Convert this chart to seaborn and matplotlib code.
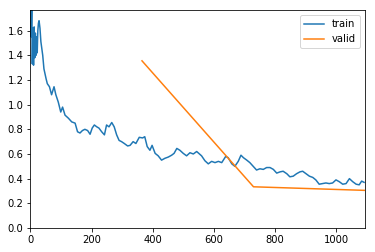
import matplotlib
matplotlib.use("Agg")
import matplotlib.pyplot as plt
import seaborn as sns
import pandas as pd

train_iter = [0, 2, 4, 6, 8, 10, 12, 14, 16, 18, 20, 22, 24, 26, 28, 30, 31, 34, 40, 44, 51, 55,
              62, 69, 77, 83, 91, 99, 105, 113, 124, 135, 146, 154, 162, 170, 178, 187, 195,
              202, 209, 217, 224, 233, 242, 249, 257, 266, 274, 282, 290, 298, 307, 318, 326,
              336, 345, 356, 367, 374,
              382, 391, 398, 408, 418, 429, 440, 451, 462, 470, 479, 489, 500, 511, 522, 533,
              544, 553, 560, 571, 582, 593, 604, 615, 626, 639, 647, 659, 669, 680, 689, 697,
              708, 718, 729, 740, 751, 762, 773, 784, 795, 806, 817, 827, 839, 849, 860, 871,
              882, 891, 902, 913, 924, 934, 945, 956, 967, 978, 989, 1000, 1011, 1022, 1033,
              1044, 1055, 1066, 1076, 1084, 1092]
train_loss = [1.77, 1.55, 1.77, 1.33, 1.62, 1.32, 1.63, 1.38, 1.58, 1.40, 1.55, 1.42, 1.60, 1.66,
              1.68, 1.64, 1.62, 1.51, 1.40, 1.29, 1.21, 1.17,
              1.145, 1.08, 1.145, 1.08, 1.02, 0.94, 0.98, 0.915, 0.89, 0.86, 0.85, 0.78, 0.77,
              0.79, 0.80, 0.79, 0.76, 0.81, 0.835, 0.82, 0.81, 0.78, 0.755, 0.835, 0.82, 0.855,
              0.82, 0.755, 0.71, 0.70, 0.685, 0.665, 0.67, 0.70, 0.685, 0.735, 0.73, 0.74,
              0.66, 0.63, 0.67, 0.605, 0.585, 0.55,
              0.565, 0.575, 0.59, 0.605, 0.645, 0.63, 0.605, 0.585, 0.61, 0.60, 0.62, 0.60,
              0.585, 0.545, 0.52, 0.54, 0.53, 0.54, 0.53, 0.58, 0.57, 0.52, 0.50, 0.54, 0.59,
              0.57, 0.55, 0.53, 0.50, 0.47, 0.48, 0.475, 0.49, 0.49, 0.475, 0.445, 0.455, 0.46,
              0.44, 0.415, 0.42, 0.44, 0.455, 0.46, 0.44, 0.42, 0.41, 0.39, 0.355, 0.36, 0.365,
              0.36, 0.365, 0.39, 0.375, 0.355, 0.36, 0.40, 0.375, 0.355, 0.35, 0.38, 0.37]
valid_iter = [365, 730, 1095]
valid_loss = [1.355, 0.334, 0.305]

df = pd.concat([
    pd.DataFrame({"iter": train_iter, "loss": train_loss, "set": "train"}),
    pd.DataFrame({"iter": valid_iter, "loss": valid_loss, "set": "valid"}),
])

fig = plt.figure(figsize=(375 / 72, 252 / 72), dpi=72)
ax = fig.add_axes([30.5 / 375, 24 / 252, 334.5 / 375, 218 / 252])
sns.lineplot(data=df, x="iter", y="loss", hue="set", palette=["#1f77b4", "#ff7f0e"],
             ax=ax, linewidth=1.5, estimator=None, sort=False)
ax.set_xlim(0, 1095)
ax.set_ylim(0, 1.767)
ax.set_xlabel("")
ax.set_ylabel("")
ax.tick_params(labelsize=10)
ax.legend(loc="upper right", fontsize=10)
fig.savefig("out.png", dpi=72)
